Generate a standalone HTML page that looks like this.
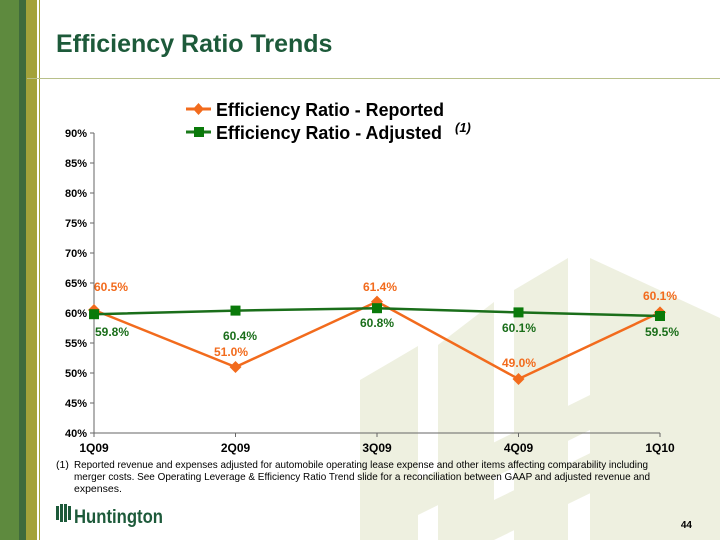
<!DOCTYPE html>
<html><head><meta charset="utf-8"><style>
body{margin:0;width:720px;height:540px;overflow:hidden;background:#fff;font-family:"Liberation Sans",Arial,sans-serif;}
</style></head><body>
<svg width="720" height="540" xmlns="http://www.w3.org/2000/svg" font-family="Liberation Sans, Arial, sans-serif">
<g fill="#eef0e0">
<polygon points="360,380 418,346 418,540 360,540"/>
<polygon points="438,345 494,302 494,540 438,540"/>
<polygon points="514,290 568,258 568,540 514,540"/>
<polygon points="590,258 720,318 720,540 590,540"/>
<polygon points="418,480 590,395 590,430 418,515"/>
<polygon points="494,500 720,390 720,430 494,540"/>
</g>
<rect x="0" y="0" width="19" height="540" fill="#5e8a3e"/>
<rect x="19" y="0" width="7" height="540" fill="#3f6b3c"/>
<rect x="26" y="0" width="11" height="540" fill="#a3a23a"/>
<rect x="39" y="0" width="1" height="540" fill="#a3a23a"/>
<rect x="27" y="78" width="693" height="1" fill="#b8c08a"/>
<text x="56" y="52" font-size="25" font-weight="bold" fill="#1d5a3a">Efficiency Ratio Trends</text>
<line x1="186" y1="109" x2="211" y2="109" stroke="#f26b1d" stroke-width="3"/>
<polygon points="198.5,103 204,109 198.5,115 193,109" fill="#f26b1d"/>
<text x="216" y="116" font-size="18" font-weight="bold" fill="#000" textLength="228" lengthAdjust="spacingAndGlyphs">Efficiency Ratio - Reported</text>
<line x1="186" y1="132" x2="211" y2="132" stroke="#1a7a1a" stroke-width="3"/>
<rect x="194" y="127" width="10" height="10" fill="#0a7a0a"/>
<text x="216" y="139" font-size="18" font-weight="bold" fill="#000" textLength="226" lengthAdjust="spacingAndGlyphs">Efficiency Ratio - Adjusted</text>
<text x="455" y="132" font-size="13" font-weight="bold" font-style="italic" fill="#000">(1)</text>
<g stroke="#666" stroke-width="1" fill="none">
<line x1="94" y1="133" x2="94" y2="433"/>
<line x1="94" y1="433" x2="660" y2="433"/>
<path d="M90 133h4M90 163h4M90 193h4M90 223h4M90 253h4M90 283h4M90 313h4M90 343h4M90 373h4M90 403h4M90 433h4"/>
<path d="M94 433v4M235.5 433v4M377 433v4M518.5 433v4M660 433v4"/>
</g>
<g font-size="11" font-weight="bold" fill="#000" text-anchor="end">
<text x="87" y="137">90%</text><text x="87" y="167">85%</text><text x="87" y="197">80%</text><text x="87" y="227">75%</text><text x="87" y="257">70%</text><text x="87" y="287">65%</text><text x="87" y="317">60%</text><text x="87" y="347">55%</text><text x="87" y="377">50%</text><text x="87" y="407">45%</text><text x="87" y="437">40%</text>
</g>
<g font-size="12" font-weight="bold" fill="#000" text-anchor="middle">
<text x="94" y="452">1Q09</text><text x="235.5" y="452">2Q09</text><text x="377" y="452">3Q09</text><text x="518.5" y="452">4Q09</text><text x="660" y="452">1Q10</text>
</g>
<polyline points="94,310 235.5,367 377,301.6 518.5,379 660,312.4" fill="none" stroke="#f26b1d" stroke-width="2.5"/>
<g fill="#f26b1d">
<polygon points="94,304 100,310 94,316 88,310"/><polygon points="235.5,361 241.5,367 235.5,373 229.5,367"/><polygon points="377,295.6 383,301.6 377,307.6 371,301.6"/><polygon points="518.5,373 524.5,379 518.5,385 512.5,379"/><polygon points="660,306.4 666,312.4 660,318.4 654,312.4"/>
</g>
<polyline points="94,314.2 235.5,310.6 377,308.2 518.5,312.4 660,316" fill="none" stroke="#1a6e1a" stroke-width="2.5"/>
<g fill="#0a7a0a">
<rect x="89" y="309.2" width="10" height="10"/><rect x="230.5" y="305.6" width="10" height="10"/><rect x="372" y="303.2" width="10" height="10"/><rect x="513.5" y="307.4" width="10" height="10"/><rect x="655" y="311" width="10" height="10"/>
</g>
<g font-size="12" font-weight="bold" fill="#f26b1d" text-anchor="middle">
<text x="111" y="291">60.5%</text><text x="231" y="356">51.0%</text><text x="380" y="291">61.4%</text><text x="519" y="367">49.0%</text><text x="660" y="300">60.1%</text>
</g>
<g font-size="12" font-weight="bold" fill="#1a6e1a" text-anchor="middle">
<text x="112" y="336">59.8%</text><text x="240" y="340">60.4%</text><text x="377" y="327">60.8%</text><text x="519" y="332">60.1%</text><text x="662" y="336">59.5%</text>
</g>
<g font-size="10.5" fill="#000">
<text x="56" y="468">(1)</text>
<text x="74" y="468" textLength="574" lengthAdjust="spacingAndGlyphs">Reported revenue and expenses adjusted for automobile operating lease expense and other items affecting comparability including</text>
<text x="74" y="480" textLength="576" lengthAdjust="spacingAndGlyphs">merger costs.  See Operating Leverage &amp; Efficiency Ratio Trend slide for a reconciliation between GAAP and adjusted revenue and</text>
<text x="74" y="492">expenses.</text>
</g>
<g fill="#1d5a3a">
<rect x="56" y="506" width="3" height="14"/><rect x="60" y="504" width="3" height="18"/><rect x="64" y="504" width="3" height="18"/><rect x="68" y="506" width="3" height="14"/>
<text x="74" y="523" font-size="19" font-weight="bold" textLength="89" lengthAdjust="spacingAndGlyphs">Huntington</text>
</g>
<text x="692" y="528" font-size="10" font-weight="bold" fill="#000" text-anchor="end">44</text>
</svg>
</body></html>
